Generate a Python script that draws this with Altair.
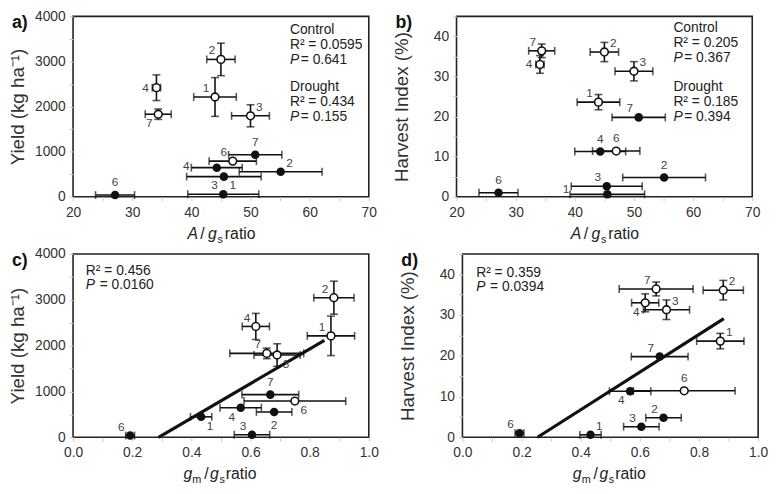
import altair as alt
import pandas as pd

FONT = "Liberation Sans"

genotypes = ["1", "2", "3", "4", "6", "7"]

# A / gs ratio (panels a, b)
ags_ctrl = [44.0, 45.0, 50.0, 34.1, 47.0, 34.4]
ags_ctrl_err = [3.6, 2.4, 3.2, 0.7, 4.0, 2.2]
ags_drt = [45.5, 55.1, 45.4, 44.3, 27.1, 50.8]
ags_drt_err = [6.3, 7.0, 6.0, 4.3, 3.3, 4.5]

# gm / gs ratio (panels c, d)
gmgs_ctrl = [0.872, 0.882, 0.690, 0.618, 0.750, 0.655]
gmgs_ctrl_err = [0.080, 0.068, 0.078, 0.046, 0.172, 0.125]
gmgs_drt = [0.433, 0.680, 0.605, 0.567, 0.193, 0.667]
gmgs_drt_err = [0.036, 0.060, 0.060, 0.070, 0.015, 0.096]

# Yield (kg/ha)
yield_ctrl = [2212, 3045, 1795, 2418, 790, 1830]
yield_ctrl_err = [430, 360, 245, 285, 0, 115]
yield_drt = [446, 553, 55, 645, 37, 930]

# Harvest index (%)
hi_ctrl = [23.6, 36.1, 31.3, 33.0, 11.4, 36.4]
hi_ctrl_err = [1.9, 2.4, 2.4, 2.2, 0, 1.7]
hi_drt = [0.6, 4.8, 2.6, 11.3, 1.0, 19.8]

# regression lines
fit_c_x = [0.289, 0.850]
fit_c_y = [0, 2114]
fit_d_x = [0.254, 0.884]
fit_d_y = [0, 29.1]

# label placement (style, kept out of the data)
OFF = {"ul": (-9, -9), "ur": (9, -9), "l": (-11, 0), "L": (-31, -2), "LL": (-42, -5),
       "u": (0, -13), "d": (0, 13), "dl": (-9, 9), "dr": (9, 9)}
lab_a_c = ["ul", "ul", "ur", "l", "ul", "dl"]
lab_a_d = ["dr", "ur", "ul", "L", "u", "u"]
lab_b_c = ["ul", "ur", "ur", "l", "u", "ul"]
lab_b_d = ["LL", "u", "ul", "u", "u", "ul"]
lab_c_c = ["ul", "ul", "dr", "ul", "dr", "ul"]
lab_c_d = ["dr", "d", "ul", "dl", "ul", "u"]
lab_d_c = ["ur", "ur", "ur", "dl", "u", "ul"]
lab_d_d = ["ur", "ul", "ul", "dl", "ul", "ul"]

W = 300
H_TOP, H_BOT = 183, 186
one = pd.DataFrame({"k": [0]})


def txt(s, x, y, size=14, italic=False, bold=False, color="#222", align="left", baseline="middle"):
    return alt.Chart(one).mark_text(
        text=s, align=align, baseline=baseline, fontSize=size, font=FONT,
        fontStyle="italic" if italic else "normal",
        fontWeight="bold" if bold else "normal", color=color,
    ).encode(x=alt.value(x), y=alt.value(y))


def panel(letter, H, xc, xce, xd, xde, yc, yce, yd, labc, labd, xdom, xstep, xlab, xfmt,
          ydom, ystep, ylab, ytitle, notes, tpieces, fitx=None, fity=None):
    rows = []
    for i, g in enumerate(genotypes):
        rows.append(dict(g=g, t="C", x=xc[i], xlo=xc[i] - xce[i], xhi=xc[i] + xce[i],
                         y=yc[i], ylo=yc[i] - yce[i], yhi=yc[i] + yce[i], ye=yce[i], pos=labc[i]))
    for i, g in enumerate(genotypes):
        rows.append(dict(g=g, t="D", x=xd[i], xlo=xd[i] - xde[i], xhi=xd[i] + xde[i],
                         y=yd[i], ylo=yd[i], yhi=yd[i], ye=0, pos=labd[i]))
    df = pd.DataFrame(rows)
    caps_x = pd.concat([df[["xlo", "y"]].rename(columns={"xlo": "cx"}),
                        df[["xhi", "y"]].rename(columns={"xhi": "cx"})])
    dfy = df[df.ye > 0]
    caps_y = pd.concat([dfy[["x", "ylo"]].rename(columns={"ylo": "cy"}),
                        dfy[["x", "yhi"]].rename(columns={"yhi": "cy"})])

    nx = int(round((xdom[1] - xdom[0]) / xstep))
    xvals = [round(xdom[0] + i * xstep, 3) for i in range(nx + 1)]
    ny = int(round((ydom[1] - ydom[0]) / ystep))
    yvals = [round(ydom[0] + i * ystep, 3) for i in range(ny + 1)]

    xaxis = alt.Axis(values=xvals, title=None, grid=False, domain=False, ticks=True,
                     tickSize=4, tickColor="#c8c8c8", labelFlush=False, labelPadding=5,
                     labelExpr=xlab, format=xfmt, labelFont=FONT, labelFontSize=14,
                     labelColor="#333")
    yaxis = alt.Axis(values=yvals, title=ytitle, grid=False, domain=False, ticks=True,
                     tickSize=4, tickColor="#c8c8c8", labelPadding=4, labelExpr=ylab,
                     format="d", labelFont=FONT, labelFontSize=14, labelColor="#333",
                     titleFont=FONT, titleFontSize=19, titleFontWeight="normal",
                     titleColor="#333",
                     titleX=-56, titleY=H / 2, titleAngle=-90, titleAlign="center",
                     titleBaseline="middle")

    def X(f):
        return alt.X(f, type="quantitative", scale=alt.Scale(domain=xdom, nice=False, zero=False), axis=xaxis)

    def Y(f):
        return alt.Y(f, type="quantitative", scale=alt.Scale(domain=ydom, nice=False, zero=False), axis=yaxis)

    layers = []
    if fitx is not None:
        fdf = pd.DataFrame({"x": fitx, "y": fity})
        layers.append(alt.Chart(fdf).mark_line(color="#111", strokeWidth=3.2).encode(x=X("x"), y=Y("y")))
    layers.append(alt.Chart(df).mark_rule(color="#111", strokeWidth=1.6).encode(
        x=X("xlo"), x2=alt.X2("xhi"), y=Y("y")))
    layers.append(alt.Chart(caps_x).mark_tick(color="#111", orient="vertical", size=8, thickness=1.6).encode(
        x=X("cx"), y=Y("y")))
    layers.append(alt.Chart(dfy).mark_rule(color="#111", strokeWidth=1.6).encode(
        x=X("x"), y=Y("ylo"), y2=alt.Y2("yhi")))
    layers.append(alt.Chart(caps_y).mark_tick(color="#111", orient="horizontal", size=8, thickness=1.6).encode(
        x=X("x"), y=Y("cy")))
    layers.append(alt.Chart(df[df.t == "D"]).mark_point(shape="circle", filled=True, size=75, color="#111", opacity=1).encode(
        x=X("x"), y=Y("y")))
    layers.append(alt.Chart(df[df.t == "C"]).mark_point(shape="circle", filled=False, size=62, fill="white",
                                                        stroke="#111", strokeWidth=1.6, opacity=1).encode(
        x=X("x"), y=Y("y")))
    for code, (dx, dy) in OFF.items():
        sub = df[df.pos == code]
        if len(sub) == 0:
            continue
        layers.append(alt.Chart(sub).mark_text(dx=dx, dy=dy, fontSize=12, font=FONT,
                                               align="center", baseline="middle").encode(
            x=X("x"), y=Y("y"), text="g:N", color=alt.value("#444")))
    for (s, x, y, it) in notes:
        layers.append(txt(s, x, y, size=14, italic=it, color="#222"))
    layers.append(txt(letter, -62, 7, size=18, bold=True, color="#111"))
    for (s, x, yoff, it, sz) in tpieces:
        layers.append(txt(s, x, H + yoff, size=sz, italic=it, color="#222", baseline="alphabetic"))
    return alt.layer(*layers).properties(width=W, height=H)


ab_xlab = "datum.value % 10 == 0 ? datum.label : ''"
cd_xlab = "round(datum.value * 10) % 2 == 0 ? format(datum.value, '.1f') : ''"
yld_lab = "datum.value % 1000 == 0 ? datum.label : ''"
hi_lab = "datum.value % 10 == 0 ? datum.label : ''"

title_ags = [("A", 116, 43, True, 16), ("/", 129, 43, False, 16), ("g", 137, 43, True, 16),
             ("s", 146.5, 47, False, 11), ("ratio", 154, 43, False, 16)]
title_gm = [("g", 112, 42, True, 16), ("m", 121, 46, False, 11), ("/", 133, 42, False, 16),
            ("g", 139, 42, True, 16), ("s", 148.5, 46, False, 11), ("ratio", 155, 42, False, 16)]

notes_a = [("Control", 220, 14, False), ("R² = 0.0595", 220, 29, False), ("P", 220, 44, True),
           ("= 0.641", 231, 44, False), ("Drought", 220, 72, False), ("R² = 0.434", 220, 87, False),
           ("P", 220, 102, True), ("= 0.155", 231, 102, False)]
notes_b = [("Control", 220, 12, False), ("R² = 0.205", 220, 27, False), ("P", 220, 42, True),
           ("= 0.367", 231, 42, False), ("Drought", 220, 72, False), ("R² = 0.185", 220, 87, False),
           ("P", 220, 102, True), ("= 0.394", 231, 102, False)]
notes_c = [("R² = 0.456", 13, 17, False), ("P", 13, 32, True), ("= 0.0160", 27, 32, False)]
notes_d = [("R² = 0.359", 14, 19, False), ("P", 14, 34, True), ("= 0.0394", 28, 34, False)]

pa = panel("a)", H_TOP, ags_ctrl, ags_ctrl_err, ags_drt, ags_drt_err, yield_ctrl, yield_ctrl_err, yield_drt,
           lab_a_c, lab_a_d, [20, 70], 5, ab_xlab, "d", [0, 4000], 500, yld_lab, "Yield (kg ha⁻¹)",
           notes_a, title_ags)
pb = panel("b)", H_TOP, ags_ctrl, ags_ctrl_err, ags_drt, ags_drt_err, hi_ctrl, hi_ctrl_err, hi_drt,
           lab_b_c, lab_b_d, [20, 70], 5, ab_xlab, "d", [0, 45], 5, hi_lab, "Harvest Index (%)",
           notes_b, title_ags)
pc = panel("c)", H_BOT, gmgs_ctrl, gmgs_ctrl_err, gmgs_drt, gmgs_drt_err, yield_ctrl, yield_ctrl_err, yield_drt,
           lab_c_c, lab_c_d, [0, 1], 0.1, cd_xlab, ".1f", [0, 4000], 500, yld_lab, "Yield (kg ha⁻¹)",
           notes_c, title_gm, fit_c_x, fit_c_y)
pd_ = panel("d)", H_BOT, gmgs_ctrl, gmgs_ctrl_err, gmgs_drt, gmgs_drt_err, hi_ctrl, hi_ctrl_err, hi_drt,
            lab_d_c, lab_d_d, [0, 1], 0.1, cd_xlab, ".1f", [0, 45], 5, hi_lab, "Harvest Index (%)",
            notes_d, title_gm, fit_d_x, fit_d_y)

top = alt.hconcat(pa, pb, spacing=14)
bottom = alt.hconcat(pc, pd_, spacing=18)
chart = alt.vconcat(top, bottom, spacing=0).properties(
    padding={"top": -3, "left": 0, "right": 0, "bottom": 0}, background="white"
).configure_view(stroke="#222", strokeWidth=1.6)

chart.save("out.html", embed_options={"renderer": "svg", "actions": False})
